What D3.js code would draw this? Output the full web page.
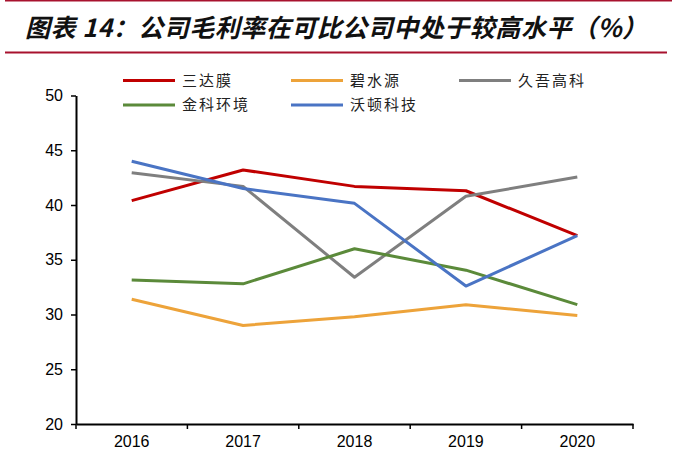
<!DOCTYPE html>
<html lang="zh">
<head>
<meta charset="UTF-8">
<title>公司毛利率</title>
<style>
  body { margin: 0; background: #fff; }
  svg { display: block; }
</style>
<script src="https://cdnjs.cloudflare.com/ajax/libs/d3/7.8.5/d3.min.js"></script>
</head>
<body>
<div id="chart"></div>
<script>
// years on the x axis
const years = ["2016", "2017", "2018", "2019", "2020"];

// gross margin (%) per company
const sandamo = [40.4, 43.2, 41.7, 41.3, 37.2];     // 三达膜
const bishuiyuan = [31.4, 29.0, 29.8, 30.9, 29.9];  // 碧水源
const jiuwu = [42.95, 41.7, 33.4, 40.8, 42.55];     // 久吾高科
const jinke = [33.15, 32.8, 36.0, 34.05, 30.9];     // 金科环境
const woton = [44.0, 41.5, 40.15, 32.6, 37.2];      // 沃顿科技

const seriesNames = ["三达膜", "碧水源", "久吾高科", "金科环境", "沃顿科技"];
const yTicks = [20, 25, 30, 35, 40, 45, 50];

const seriesValues = [sandamo, bishuiyuan, jiuwu, jinke, woton];
const colors = ["#C00000", "#EDA33A", "#7F7F7F", "#5B8A3A", "#4A74C4"];
const series = seriesNames.map((name, i) => ({ name, values: seriesValues[i], color: colors[i] }));

const W = 677, H = 468;
const plot = { left: 76, right: 633, top: 95.5, bottom: 424 };

const svg = d3.select("#chart").append("svg")
    .attr("width", W)
    .attr("height", H);

// title and rules
svg.append("line")
    .attr("x1", 5).attr("x2", 672).attr("y1", 0.8).attr("y2", 0.8)
    .attr("stroke", "#A8122E").attr("stroke-width", 1.5);
svg.append("line")
    .attr("x1", 5).attr("x2", 667).attr("y1", 52.5).attr("y2", 52.5)
    .attr("stroke", "#A8122E").attr("stroke-width", 2);
svg.append("text")
    .attr("x", 25).attr("y", 37)
    .attr("font-family", "'Noto Sans CJK SC', sans-serif")
    .attr("font-size", 25)
    .attr("font-weight", "bold")
    .attr("font-style", "italic")
    .attr("textLength", 622)
    .attr("lengthAdjust", "spacing")
    .attr("fill", "#111")
    .text("图表 14：公司毛利率在可比公司中处于较高水平（%）");

// scales
const x = d3.scaleBand()
    .domain(years)
    .range([plot.left, plot.right]);

const y = d3.scaleLinear()
    .domain([20, 50])
    .range([plot.bottom, plot.top]);

// y axis
const yAxis = svg.append("g")
    .attr("transform", `translate(${plot.left},0)`)
    .call(d3.axisLeft(y).tickValues(yTicks).tickSize(5).tickSizeOuter(0));
yAxis.select(".domain").attr("stroke", "#000").attr("stroke-width", 2);
yAxis.selectAll(".tick line").attr("stroke", "#000").attr("stroke-width", 1.5);
yAxis.selectAll(".tick text")
    .attr("x", -13)
    .attr("font-family", "'Liberation Sans', Arial, sans-serif")
    .attr("font-size", 16)
    .attr("fill", "#000");

// x axis, ticks on the band edges
const xAxis = svg.append("g")
    .attr("transform", `translate(0,${plot.bottom})`)
    .call(d3.axisBottom(x).tickSize(0).tickSizeOuter(0));
xAxis.select(".domain").attr("stroke", "#000").attr("stroke-width", 2);
xAxis.selectAll(".tick text")
    .attr("y", 12)
    .attr("font-family", "'Liberation Sans', Arial, sans-serif")
    .attr("font-size", 16)
    .attr("fill", "#000");
const edges = years.map(d => x(d)).concat([x(years[years.length - 1]) + x.bandwidth()]);
xAxis.selectAll(".edge")
    .data(edges)
    .enter().append("line")
    .attr("class", "edge")
    .attr("x1", d => d).attr("x2", d => d)
    .attr("y1", 0).attr("y2", 5)
    .attr("stroke", "#000").attr("stroke-width", 1.5);

// lines
const line = d3.line()
    .x((d, i) => x(years[i]) + x.bandwidth() / 2)
    .y(d => y(d));

svg.selectAll(".series")
    .data(series)
    .enter().append("path")
    .attr("class", "series")
    .attr("d", d => line(d.values))
    .attr("fill", "none")
    .attr("stroke", d => d.color)
    .attr("stroke-width", 3)
    .attr("stroke-linejoin", "round");

// legend
const legendCols = [123, 291, 459];
const legendRows = [80.5, 105];
const legend = svg.selectAll(".legend")
    .data(series)
    .enter().append("g")
    .attr("class", "legend")
    .attr("transform", (d, i) => `translate(${legendCols[i % 3]},${legendRows[Math.floor(i / 3)]})`);
legend.append("line")
    .attr("x1", 0).attr("x2", 52)
    .attr("stroke", d => d.color)
    .attr("stroke-width", 3);
legend.append("text")
    .attr("x", 59).attr("dy", "0.36em")
    .attr("font-family", "'Noto Sans CJK SC', sans-serif")
    .attr("font-size", 15)
    .attr("letter-spacing", 2)
    .attr("fill", "#222")
    .text(d => d.name);
</script>
</body>
</html>
